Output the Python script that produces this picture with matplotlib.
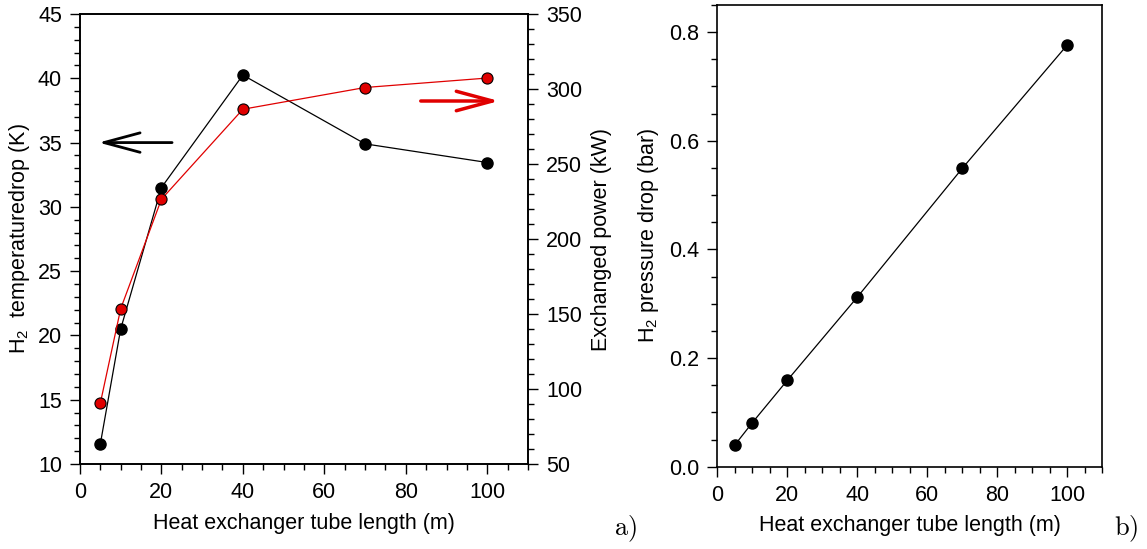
import matplotlib
matplotlib.use("Agg")
import matplotlib.pyplot as plt
from matplotlib.ticker import MultipleLocator

plt.rcParams['font.family'] = ['Liberation Sans', 'DejaVu Sans']
plt.rcParams['mathtext.fontset'] = 'custom'
plt.rcParams['mathtext.rm'] = 'Liberation Sans'
plt.rcParams['mathtext.it'] = 'Liberation Sans:italic'

# data
length = [5, 10, 20, 40, 70, 100]
temp_drop = [11.55, 20.5, 31.5, 40.25, 34.9, 33.45]
power = [90.5, 153.5, 226.5, 286.5, 301.0, 307.3]
pressure_drop = [0.040, 0.081, 0.159, 0.312, 0.549, 0.776]

fs = 15.5
fig = plt.figure(figsize=(11.47, 5.49), dpi=100)

# ---- panel a)
ax1 = fig.add_axes([0.0697, 0.1548, 0.3906, 0.8197])
ax2 = ax1.twinx()

ax1.plot(length, temp_drop, color='black', lw=0.9, marker='o', ms=8,
         mfc='black', mec='black', zorder=3)
ax2.plot(length, power, color='#e00000', lw=0.9, marker='o', ms=8,
         mfc='#e00000', mec='black', mew=0.8, zorder=3)

ax1.set_xlim(0, 110)
ax1.set_ylim(10, 45)
ax2.set_ylim(50, 350)
ax1.xaxis.set_major_locator(MultipleLocator(20))
ax1.xaxis.set_minor_locator(MultipleLocator(5))
ax1.yaxis.set_major_locator(MultipleLocator(5))
ax1.yaxis.set_minor_locator(MultipleLocator(1))
ax2.yaxis.set_major_locator(MultipleLocator(50))
ax2.yaxis.set_minor_locator(MultipleLocator(10))

ax1.set_xlabel('Heat exchanger tube length (m)', fontsize=fs, labelpad=7)
ax1.set_ylabel(r'H$_2$  temperaturedrop (K)', fontsize=fs, labelpad=4)
ax2.set_ylabel('Exchanged power (kW)', fontsize=fs, labelpad=6)

# direction arrows
ax1.annotate('', xy=(3.9, 35), xytext=(23.3, 35),
             arrowprops=dict(arrowstyle='->,head_length=2.6,head_width=0.7',
                             color='black', lw=2))
ax2.annotate('', xy=(103.6, 292), xytext=(83, 292),
             arrowprops=dict(arrowstyle='->,head_length=2.6,head_width=0.7',
                             color='#e00000', lw=2.5))

# ---- panel b)
ax3 = fig.add_axes([0.6254, 0.1499, 0.3354, 0.841])
ax3.plot(length, pressure_drop, color='black', lw=0.9, marker='o', ms=8,
         mfc='black', mec='black')
ax3.set_xlim(0, 110)
ax3.set_ylim(0, 0.85)
ax3.xaxis.set_major_locator(MultipleLocator(20))
ax3.xaxis.set_minor_locator(MultipleLocator(5))
ax3.yaxis.set_major_locator(MultipleLocator(0.2))
ax3.yaxis.set_minor_locator(MultipleLocator(0.05))
ax3.yaxis.set_major_formatter(matplotlib.ticker.FormatStrFormatter('%.1f'))
ax3.set_xlabel('Heat exchanger tube length (m)', fontsize=fs, labelpad=7)
ax3.set_ylabel(r'H$_2$ pressure drop (bar)', fontsize=fs, labelpad=6)

for ax in (ax1, ax2, ax3):
    ax.tick_params(which='major', direction='out', length=7, width=1,
                   labelsize=fs, pad=6)
    ax.tick_params(which='minor', direction='out', length=4, width=1)
    for sp in ax.spines.values():
        sp.set_linewidth(1.2)

fig.text(0.535, 0.025, r'$\mathrm{a)}$', fontsize=19, math_fontfamily='cm')
fig.text(0.971, 0.025, r'$\mathrm{b)}$', fontsize=19, math_fontfamily='cm')

fig.savefig('out.png', dpi=100)
